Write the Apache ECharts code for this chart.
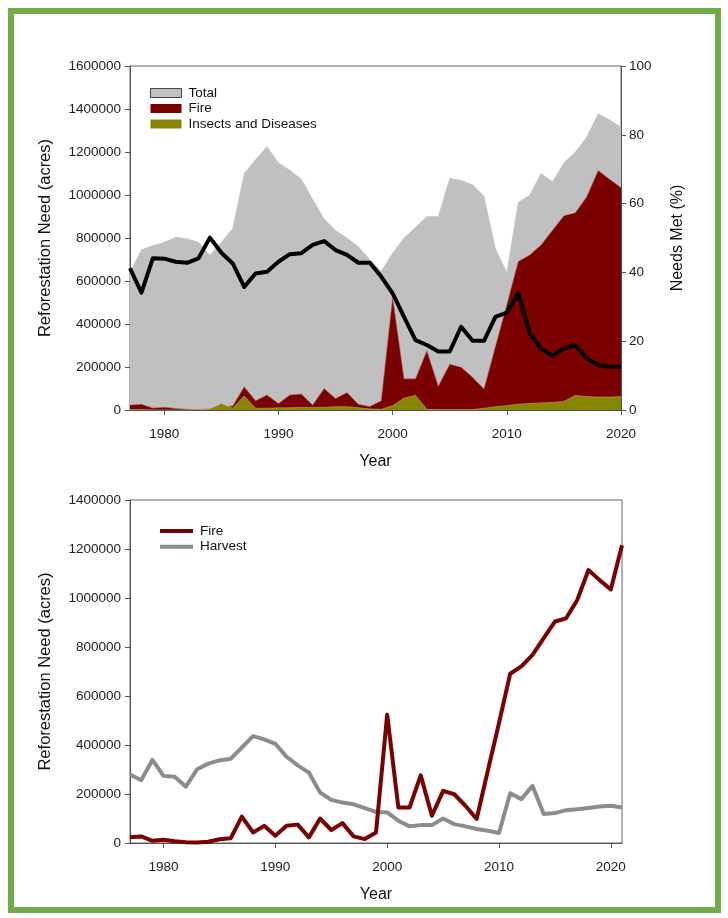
<!DOCTYPE html>
<html>
<head>
<meta charset="utf-8">
<script src="https://cdn.jsdelivr.net/npm/echarts@6/dist/echarts.min.js"></script>
<style>
html,body{margin:0;padding:0;background:#fff;}
#chart{width:728px;height:918px;position:absolute;left:0;top:0;}
#frame{position:absolute;left:8px;top:8px;width:701px;height:893px;border:6px solid #70AD47;pointer-events:none;}
</style>
</head>
<body>
<div id="chart"></div>
<div id="frame"></div>
<script>
// ---- Data ----
const yearsTop = [1977,1978,1979,1980,1981,1982,1983,1984,1985,1986,1987,1988,1989,1990,1991,1992,1993,1994,1995,1996,1997,1998,1999,2000,2001,2002,2003,2004,2005,2006,2007,2008,2009,2010,2011,2012,2013,2014,2015,2016,2017,2018,2019,2020];
const yearsBottom = [1977,1978,1979,1980,1981,1982,1983,1984,1985,1986,1987,1988,1989,1990,1991,1992,1993,1994,1995,1996,1997,1998,1999,2000,2001,2002,2003,2004,2005,2006,2007,2008,2009,2010,2011,2012,2013,2014,2015,2016,2017,2018,2019,2020,2021];
const totalNeed = [640000,745000,765000,780000,803000,797000,780000,720000,780000,845000,1100000,1165000,1225000,1150000,1115000,1075000,980000,890000,835000,800000,760000,700000,645000,730000,800000,850000,900000,900000,1078000,1068000,1048000,995000,752000,640000,965000,1000000,1100000,1062000,1150000,1200000,1270000,1378000,1350000,1315000];
const fireNeed = [23000,27000,9000,13000,7000,3000,2000,5000,15000,19000,108000,43000,70000,30000,70000,75000,23000,100000,53000,81000,27000,16000,43000,524000,145000,145000,276000,111000,213000,199000,152000,98000,295000,490000,691000,721000,768000,836000,904000,917000,992000,1114000,1073000,1035000,1215000];
const insectNeed = [2000,2000,0,0,0,0,2000,5000,30000,8000,65000,8000,8000,10000,10000,12000,12000,12000,15000,15000,10000,5000,3000,20000,55000,68000,3000,2000,2000,2000,2000,8000,15000,20000,27000,30000,33000,35000,40000,68000,62000,60000,60000,62000];
const needsMet = [41.2,34.1,44.1,44.0,43.1,42.8,44.1,50.1,45.7,42.6,35.8,39.7,40.2,43.1,45.3,45.6,48.0,49.1,46.5,45.1,42.8,42.8,38.8,33.9,27.1,20.3,18.9,17.0,17.0,24.2,20.1,20.1,27.1,28.3,33.9,22.3,17.9,15.7,17.9,18.9,15.0,13.1,12.6,12.6];
const harvestNeed = [280000,256000,339000,274000,270000,230000,301000,324000,337000,344000,389000,436000,423000,405000,352000,317000,287000,206000,176000,165000,158000,142000,127000,125000,91000,68000,73000,73000,100000,77000,68000,57000,50000,41000,203000,179000,233000,118000,122000,134000,138000,143000,149000,152000,145000];
const yearTicks = [1980,1990,2000,2010,2020];

// ---- Build ----
const pairs = (xs, ys) => ys.map((v, i) => [xs[i], v]);
const FONT = "'Liberation Sans', Arial, sans-serif";
const axisColor = '#555';
const plain = v => String(v);
const labelStyle = {fontSize: 13.5, color: '#222', fontFamily: FONT, formatter: plain};

function xAxisCfg(gridIndex, max) {
  return {
    type: 'value', gridIndex, min: 1977, max,
    axisLine: {show: true, onZero: false, lineStyle: {color: axisColor, width: 1}},
    axisTick: {show: true, customValues: yearTicks, length: 5, lineStyle: {color: axisColor}},
    axisLabel: Object.assign({customValues: yearTicks, margin: 17}, labelStyle),
    splitLine: {show: false},
    name: 'Year', nameLocation: 'middle', nameGap: 44,
    nameTextStyle: {fontSize: 16, color: '#111', fontFamily: FONT}
  };
}
function yAxisLeft(gridIndex, max) {
  return {
    type: 'value', gridIndex, min: 0, max, interval: 200000,
    axisLine: {show: true, lineStyle: {color: axisColor}},
    axisTick: {show: true, length: 5, lineStyle: {color: axisColor}},
    axisLabel: Object.assign({margin: 9}, labelStyle),
    splitLine: {show: false},
    name: 'Reforestation Need (acres)', nameLocation: 'middle', nameGap: 76, nameRotate: 90,
    nameTextStyle: {fontSize: 16.5, color: '#111', fontFamily: FONT}
  };
}

const option = {
  animation: false,
  backgroundColor: '#ffffff',
  textStyle: {fontFamily: FONT},
  grid: [
    {left: 130, right: 107, top: 66, height: 344, show: true, borderColor: '#666', borderWidth: 1, containLabel: false},
    {left: 130, right: 106, top: 500, height: 343, show: true, borderColor: '#666', borderWidth: 1, containLabel: false}
  ],
  legend: [
    {
      orient: 'vertical', left: 150, top: 86, padding: 0, itemGap: 1.5,
      itemWidth: 31, itemHeight: 9, icon: 'rect',
      textStyle: {fontSize: 13.5, color: '#111', lineHeight: 14, padding: [0, 0, 0, 2], fontFamily: FONT},
      data: [
        {name: 'Total', itemStyle: {color: '#C0C0C0', borderColor: '#444', borderWidth: 1}},
        {name: 'Fire', itemStyle: {color: '#7B0000'}},
        {name: 'Insects and Diseases', itemStyle: {color: '#858500'}}
      ]
    },
    {
      orient: 'vertical', left: 160, top: 524, padding: 0, itemGap: 1.7,
      itemWidth: 33, itemHeight: 4, icon: 'rect',
      textStyle: {fontSize: 13.5, color: '#111', lineHeight: 14, padding: [0, 0, 0, 2], fontFamily: FONT},
      formatter: n => n.replace(' (line)', ''),
      data: [
        {name: 'Fire (line)', itemStyle: {color: '#7B0000'}},
        {name: 'Harvest', itemStyle: {color: '#8C8C8C'}}
      ]
    }
  ],
  xAxis: [xAxisCfg(0, 2020), xAxisCfg(1, 2021)],
  yAxis: [
    yAxisLeft(0, 1600000),
    {
      type: 'value', gridIndex: 0, position: 'right', min: 0, max: 100, interval: 20,
      axisLine: {show: true, lineStyle: {color: axisColor}},
      axisTick: {show: true, length: 5, lineStyle: {color: axisColor}},
      axisLabel: Object.assign({margin: 8}, labelStyle),
      splitLine: {show: false},
      name: 'Needs Met (%)', nameLocation: 'middle', nameGap: 49, nameRotate: 90,
      nameTextStyle: {fontSize: 16, color: '#111', fontFamily: FONT}
    },
    yAxisLeft(1, 1400000)
  ],
  series: [
    {
      name: 'Total', type: 'line', xAxisIndex: 0, yAxisIndex: 0,
      data: pairs(yearsTop, totalNeed), symbol: 'none', color: '#C0C0C0',
      lineStyle: {width: 0.5, color: '#C0C0C0'}, areaStyle: {color: '#C0C0C0', opacity: 1}
    },
    {
      name: 'Fire', type: 'line', xAxisIndex: 0, yAxisIndex: 0,
      data: pairs(yearsTop, fireNeed.slice(0, yearsTop.length)), symbol: 'none', color: '#7B0000',
      lineStyle: {width: 0.6, color: '#B07060'}, areaStyle: {color: '#7B0000', opacity: 1}
    },
    {
      name: 'Insects and Diseases', type: 'line', xAxisIndex: 0, yAxisIndex: 0,
      data: pairs(yearsTop, insectNeed), symbol: 'none', color: '#858500',
      lineStyle: {width: 0.6, color: '#C8B070'}, areaStyle: {color: '#858500', opacity: 1}
    },
    {
      name: 'Needs Met', type: 'line', xAxisIndex: 0, yAxisIndex: 1,
      data: pairs(yearsTop, needsMet), symbol: 'none', color: '#000',
      lineStyle: {width: 4, color: '#000', join: 'round'}
    },
    {
      name: 'Fire (line)', type: 'line', xAxisIndex: 1, yAxisIndex: 2,
      data: pairs(yearsBottom, fireNeed), symbol: 'none', color: '#7B0000',
      lineStyle: {width: 4, color: '#7B0000', join: 'round'}
    },
    {
      name: 'Harvest', type: 'line', xAxisIndex: 1, yAxisIndex: 2,
      data: pairs(yearsBottom, harvestNeed), symbol: 'none', color: '#8C8C8C', z: 1,
      lineStyle: {width: 4, color: '#8C8C8C', join: 'round'}
    }
  ]
};

const chart = echarts.init(document.getElementById('chart'), null, {renderer: 'canvas'});
chart.setOption(option);
</script>
</body>
</html>
